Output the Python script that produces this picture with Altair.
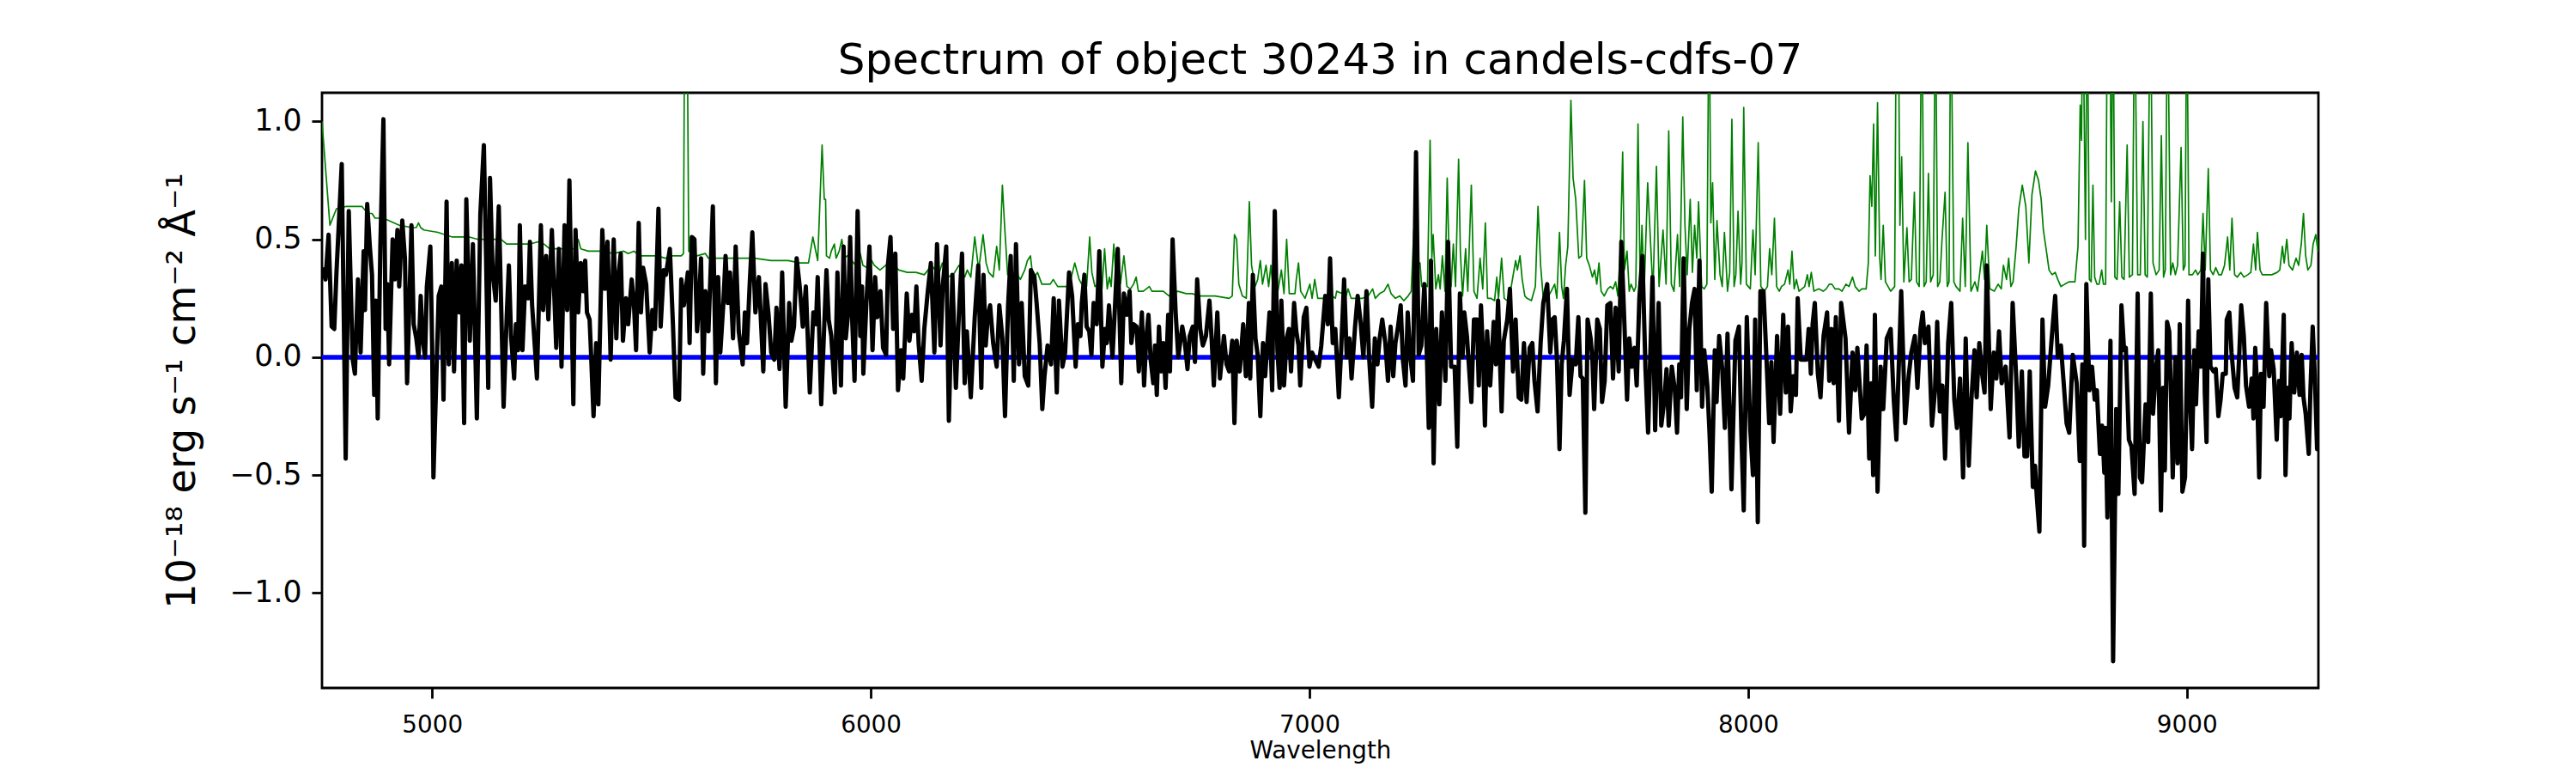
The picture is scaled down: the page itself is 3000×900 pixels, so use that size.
import altair as alt
import pandas as pd

# ---------------- data ----------------
title_text = "Spectrum of object 30243 in candels-cdfs-07"
x_title = "Wavelength"
y_title = "10⁻¹⁸ erg s⁻¹ cm⁻² Å⁻¹"
x_ticks = [5000, 6000, 7000, 8000, 9000]
y_ticks = [-1.0, -0.5, 0.0, 0.5, 1.0]
x_range = [4749, 9300]
y_range = [-1.403, 1.122]

black_wave = [
    4749, 4757, 4764, 4771, 4777, 4782, 4794, 4803, 4810, 4819, 4824, 4831, 4837, 4844, 4847, 4852,
    4858, 4863, 4868, 4872, 4876, 4882, 4889, 4894, 4898, 4902, 4910, 4915, 4921, 4925, 4932, 4938,
    4943, 4948, 4953, 4958, 4964, 4969, 4974, 4979, 4984, 4988, 4996, 5000, 5003, 5015, 5021, 5026,
    5033, 5038, 5045, 5050, 5056, 5062, 5067, 5073, 5078, 5086, 5093, 5102, 5110, 5118, 5123, 5128,
    5132, 5138, 5145, 5152, 5163, 5170, 5175, 5180, 5187, 5191, 5196, 5200, 5206, 5212, 5219, 5223,
    5228, 5239, 5248, 5253, 5260, 5265, 5273, 5283, 5289, 5295, 5302, 5308, 5313, 5322, 5327,
    5333, 5339, 5344, 5349, 5353, 5359, 5362, 5368, 5374, 5379, 5388, 5394, 5400, 5407, 5414, 5420,
    5425, 5430, 5435, 5442, 5447, 5455, 5460, 5465, 5471, 5476, 5481, 5488, 5496, 5502, 5508, 5516,
    5521, 5528, 5533, 5542, 5549, 5555, 5563, 5568, 5574, 5583, 5587, 5592, 5598, 5604, 5609, 5613,
    5618, 5623, 5630, 5640, 5647, 5652, 5657, 5664, 5669, 5674, 5679, 5686, 5692, 5699, 5708, 5713,
    5718, 5724, 5730, 5737, 5745, 5750, 5755, 5760, 5767, 5773, 5780, 5785, 5792, 5798, 5806, 5814,
    5819, 5825, 5831, 5838, 5845, 5852, 5861, 5869, 5875, 5879, 5887, 5893, 5899, 5904,
    5910, 5918, 5924, 5932, 5938, 5943, 5948, 5953, 5958, 5963, 5970, 5976, 5980, 5983, 5990, 5997,
    6004, 6010, 6015, 6022, 6028, 6035, 6039, 6045, 6051, 6056, 6062, 6069, 6074, 6082, 6088, 6094,
    6099, 6104, 6109, 6116, 6122, 6130, 6137, 6145, 6151, 6159, 6164, 6172, 6178, 6186, 6194, 6201,
    6208, 6214, 6219, 6228, 6237, 6245, 6252, 6257, 6262, 6267, 6272, 6279, 6287, 6293, 6300, 6306,
    6313, 6319, 6326, 6331, 6338, 6344, 6351, 6359, 6365, 6373, 6378, 6385, 6391, 6396, 6403, 6411,
    6417, 6424, 6429, 6437, 6443, 6452, 6459, 6467, 6472, 6478, 6481,
    6487, 6492, 6498, 6503, 6508, 6515, 6521, 6528, 6534, 6538, 6543, 6551, 6556, 6563, 6571, 6577,
    6584, 6590, 6594, 6599, 6606, 6611, 6618, 6623, 6628, 6633, 6638, 6644, 6648, 6652, 6657, 6662,
    6667, 6672, 6678, 6682, 6688, 6695, 6701, 6710, 6715, 6722, 6727, 6734, 6739, 6744, 6751, 6757,
    6764, 6772, 6777, 6782, 6790, 6796, 6805, 6811, 6817, 6824, 6829, 6834, 6841, 6849, 6855, 6862,
    6865, 6871, 6877, 6882, 6888, 6894, 6899, 6909, 6915, 6921, 6927, 6932, 6936, 6942, 6948, 6953,
    6958, 6965, 6970, 6975, 6979, 6987, 6993, 7000, 7006, 7013, 7021, 7027, 7036, 7042, 7047, 7053, 7059,
    7067, 7072, 7079, 7085, 7091, 7096, 7104, 7110, 7117, 7123, 7130, 7136, 7143, 7149, 7155, 7160,
    7166, 7173, 7179, 7185, 7191, 7196, 7202, 7208, 7213, 7219, 7224, 7230, 7236, 7243, 7249, 7255,
    7262, 7268, 7272, 7277, 7283, 7289, 7296, 7302, 7310, 7316, 7323, 7331, 7337, 7343, 7349, 7353,
    7359, 7369, 7375, 7382, 7386, 7391, 7396, 7400, 7405, 7412, 7420, 7425, 7430, 7438, 7443, 7451,
    7457, 7464, 7470, 7477, 7483, 7489, 7495, 7502, 7508, 7513, 7520, 7527, 7533, 7542, 7549, 7554,
    7559, 7564, 7570, 7575, 7580, 7587, 7593, 7600, 7607, 7613, 7618, 7623, 7629, 7634,
    7641, 7645, 7649, 7656, 7662, 7667, 7673, 7679, 7686, 7692, 7698, 7705, 7711, 7718, 7724, 7729,
    7735, 7741, 7746, 7752, 7759, 7766, 7772, 7782, 7788, 7796, 7802, 7809, 7814, 7819, 7826, 7833,
    7838, 7843, 7847, 7853, 7860, 7866, 7872, 7878, 7883, 7889, 7895, 7900, 7907, 7912, 7917, 7924,
    7928, 7934, 7941, 7947, 7953, 7962, 7971, 7979, 7985, 7990, 7997, 8005, 8011, 8016, 8022, 8028,
    8035, 8041, 8048, 8053, 8058, 8066, 8073, 8080, 8086, 8091, 8097, 8103, 8109, 8113, 8120, 8126,
    8133, 8138, 8143, 8147, 8152, 8159, 8165, 8172, 8180, 8185, 8190, 8195, 8200, 8207, 8212,
    8222, 8230, 8238, 8244, 8249, 8259, 8265, 8270, 8276, 8281, 8285, 8289, 8295, 8302, 8308, 8316,
    8325, 8332, 8338, 8349, 8358, 8366, 8372, 8380, 8386, 8393, 8398, 8403, 8411, 8419, 8426, 8431,
    8437, 8443, 8449, 8456, 8463, 8470, 8476, 8483, 8490, 8496, 8503, 8509, 8516, 8521, 8527, 8534,
    8539, 8544, 8553, 8560, 8566, 8572, 8578, 8587, 8596, 8603, 8611, 8617, 8624, 8630, 8636, 8642,
    8649, 8654, 8658, 8664, 8671, 8677, 8684, 8692, 8700, 8706, 8713, 8719, 8726, 8732, 8740, 8749,
    8756, 8762, 8766, 8771, 8778, 8784, 8790,
    8795, 8802, 8807, 8812, 8815, 8819, 8826, 8832, 8839, 8844, 8851, 8857, 8861, 8868, 8874, 8881,
    8888, 8893, 8898, 8906, 8912, 8918, 8923, 8930, 8935, 8941, 8946, 8950, 8955, 8960, 8964, 8968,
    8974, 8979, 8984, 8990, 8996, 9003, 9007, 9012, 9017, 9021, 9027, 9032, 9037, 9041, 9045, 9049,
    9054, 9061, 9066, 9072, 9077, 9082, 9089, 9091, 9097, 9102, 9109, 9115, 9120, 9124, 9130, 9135,
    9142, 9148, 9152, 9156, 9160, 9165, 9169, 9175, 9181, 9188, 9192, 9198, 9205, 9210, 9214, 9221,
    9225, 9230, 9234, 9239, 9245, 9251, 9257, 9262, 9266, 9271, 9278, 9282, 9287, 9292, 9297, 9300,
]
black_flux = [
    0.38, 0.33, 0.52, 0.13, 0.12, 0.36, 0.82, -0.43, 0.62, -0.01, -0.07, 0.33, 0.02, 0.45, 0.20, 0.65,
    0.47, 0.35, -0.16, 0.24, -0.26, 0.47, 1.01, 0.12, 0.31, -0.03, 0.50, 0.33, 0.54, 0.30, 0.58, 0.42,
    -0.11, 0.22, 0.56, 0.14, 0.08, 0.00, 0.26, 0.07, 0.00, 0.30, 0.47, 0.06, -0.51, 0.26, 0.30, -0.18,
    0.66, -0.03, 0.40, -0.06, 0.41, 0.19, 0.39, -0.28, 0.67, 0.07, 0.48, -0.26, 0.61, 0.90, 0.43, -0.13,
    0.76, 0.36, 0.24, 0.64, -0.21, 0.17, 0.39, 0.09, -0.09, 0.14, 0.03, 0.56, 0.03, 0.30, 0.25, 0.49,
    0.22, -0.09, 0.56, 0.20, 0.43, 0.16, 0.54, 0.04, 0.46, -0.04, 0.56, 0.20, 0.75, -0.20, 0.54,
    0.19, 0.40, 0.28, 0.41, 0.19, 0.16, 0.03, -0.25, 0.06, -0.20, 0.54, 0.29, 0.49, -0.01, 0.50, 0.08,
    0.35, 0.44, 0.07, 0.25, 0.14, 0.33, 0.23, 0.03, 0.57, 0.19, 0.38, 0.31, 0.02, 0.20, 0.12, 0.63,
    0.13, 0.37, 0.35, 0.46, 0.14, -0.17, -0.18, 0.33, 0.22, 0.36, 0.06, 0.51, 0.50, 0.11, 0.25, 0.42,
    -0.07, 0.28, 0.11, 0.64, -0.11, 0.34, 0.02, 0.23, 0.43, 0.23, 0.36, 0.08, 0.47, 0.11, -0.03, 0.19,
    0.06, 0.31, 0.53, 0.19, 0.34, 0.14, -0.06, 0.31, 0.18, 0.02, -0.01, 0.21, -0.05, 0.36, -0.21, 0.23,
    0.07, 0.13, 0.42, 0.30, 0.13, 0.30, -0.15, 0.19, 0.14, 0.34, -0.20, 0.09, 0.37, 0.16,
    0.09, -0.15, 0.36, -0.12, 0.47, 0.08, 0.18, 0.51, 0.14, -0.10, 0.62, 0.09, 0.30, -0.07, 0.23, 0.47,
    0.03, 0.34, 0.17, 0.28, 0.04, 0.01, 0.39, 0.51, 0.12, 0.44, -0.14, 0.03, -0.09, 0.27, 0.07, 0.18,
    0.11, 0.30, 0.06, -0.10, 0.12, 0.28, 0.40, 0.02, 0.48, 0.05, 0.30, 0.47, -0.27, 0.35, -0.13, 0.19,
    0.44, -0.11, 0.11, -0.17, 0.17, 0.39, -0.13, 0.35, 0.05, 0.18, 0.22, 0.06, -0.04, 0.22, 0.08, -0.25,
    0.22, 0.43, -0.10, 0.48, -0.03, 0.23, -0.08, -0.12, 0.37, 0.34, 0.23, 0.06, -0.22, -0.08, 0.05, -0.03,
    0.25, -0.15, 0.24, -0.04, 0.02, 0.36, 0.26, -0.04, 0.14, 0.09, 0.23,
    0.35, 0.13, 0.11, 0.01, 0.23, 0.14, 0.45, -0.04, 0.12, 0.06, 0.22, 0.00, 0.19, 0.46, -0.11, 0.27,
    0.18, 0.28, 0.06, 0.14, 0.13, -0.06, 0.19, -0.12, 0.08, 0.18, -0.01, -0.11, 0.05, -0.16, 0.13, -0.06,
    0.06, -0.13, 0.18, -0.06, 0.50, 0.19, 0.00, 0.13, 0.08, -0.05, 0.09, 0.13, -0.02, 0.33, 0.12, 0.05,
    0.09, 0.24, 0.08, -0.12, 0.19, -0.09, 0.09, -0.03, -0.06, 0.07, -0.28, 0.07, -0.06, 0.14, -0.08, 0.23,
    -0.09, 0.35, 0.08, 0.01, -0.25, 0.06, -0.08, 0.19, -0.14, 0.62, 0.03, -0.13, 0.24, -0.12, 0.08, 0.12,
    -0.06, 0.23, 0.11, 0.05, -0.12, 0.17, 0.21, -0.04, 0.02, -0.01, -0.04, 0.05, 0.26, 0.14, 0.42, 0.06, 0.12,
    -0.17, 0.02, 0.33, 0.00, 0.08, -0.09, 0.13, 0.26, 0.14, 0.00, 0.28, 0.00, -0.21, 0.08, -0.03, 0.08,
    0.16, 0.06, -0.10, 0.13, -0.08, 0.06, 0.13, 0.22, -0.01, -0.12, 0.19, 0.00, -0.10, 0.87, 0.01, 0.05,
    0.31, -0.01, -0.30, 0.41, -0.45, 0.12, -0.20, 0.19, -0.10, 0.49, -0.04, -0.04, -0.38, 0.27, 0.00, 0.19,
    0.09, -0.19, 0.16, 0.16, -0.12, 0.22, 0.00, -0.29, 0.11, -0.12, 0.15, -0.03, 0.24, -0.23, 0.07, 0.16,
    0.29, -0.06, 0.16, -0.17, -0.18, 0.06, -0.19, 0.04, 0.06, -0.10, -0.23, 0.06, 0.23, 0.31, 0.02, 0.16,
    0.17, 0.00, -0.39, -0.03, 0.07, 0.29, -0.16, -0.01, -0.03, 0.17, -0.08, -0.09, -0.66, 0.16,
    0.08, -0.01, -0.22, 0.16, 0.12, -0.19, -0.10, 0.22, 0.23, -0.09, 0.21, -0.06, 0.49, 0.14, -0.18, 0.08,
    -0.04, 0.04, -0.12, 0.25, 0.43, -0.05, -0.32, 0.34, -0.31, 0.23, -0.29, -0.18, -0.05, -0.29, -0.04, -0.14,
    -0.32, -0.03, -0.17, 0.42, -0.22, 0.12, 0.23, 0.29, -0.14, 0.41, -0.21, 0.03, -0.12, -0.32, -0.57, 0.03,
    -0.19, 0.09, -0.05, -0.30, 0.10, -0.56, 0.07, 0.13, -0.35, -0.65, 0.17, -0.31, -0.50, 0.16, -0.70, 0.28,
    0.28, 0.03, -0.28, -0.02, -0.36, 0.09, -0.24, 0.18, -0.15, 0.13, -0.23, -0.08, -0.16, 0.25, -0.01, -0.01,
    -0.01, 0.12, -0.07, 0.14, 0.23, -0.07, -0.17, 0.09, 0.19, -0.10, 0.12, -0.11, 0.17, -0.27, 0.23,
    0.08, -0.32, 0.02, -0.14, 0.04, -0.26, -0.24, 0.05, -0.43, -0.11, -0.50, 0.18, -0.57, -0.04, -0.22, 0.08,
    0.12, -0.18, -0.35, 0.28, -0.28, -0.08, 0.02, 0.09, -0.13, 0.12, 0.19, 0.06, 0.13, -0.29, -0.14, 0.15,
    -0.23, -0.12, -0.43, 0.06, 0.23, -0.18, -0.30, -0.09, -0.51, 0.08, -0.46, -0.18, 0.03, -0.17, 0.06, -0.08,
    -0.15, 0.39, -0.22, 0.02, -0.09, 0.11, -0.11, -0.04, -0.34, 0.23, -0.08, -0.38, -0.06, -0.42, -0.42, -0.06,
    -0.55, -0.46, -0.59, -0.74, 0.16, -0.21, -0.12, 0.08, 0.26, 0.00, 0.05, -0.10, -0.28, -0.32, 0.01, -0.11,
    -0.44, -0.03, -0.80, 0.31, -0.14, -0.04, -0.18,
    -0.14, -0.41, -0.29, -0.49, -0.30, -0.68, 0.07, -1.29, -0.22, -0.58, 0.22, 0.03, 0.04, -0.35, -0.38, -0.58,
    0.27, -0.51, -0.53, -0.20, -0.36, 0.27, -0.24, -0.04, 0.03, -0.65, -0.13, -0.48, 0.15, 0.11, -0.17, -0.51,
    0.00, -0.45, 0.14, -0.57, -0.51, 0.24, -0.17, -0.39, 0.03, -0.20, 0.11, -0.04, 0.44, -0.15, -0.36, 0.33,
    -0.04, -0.06, -0.05, -0.25, -0.18, -0.07, -0.07, 0.16, 0.19, 0.02, -0.13, -0.17, 0.03, 0.22, 0.09, -0.12,
    -0.21, -0.09, -0.26, 0.04, -0.12, -0.51, -0.07, -0.21, 0.23, -0.08, 0.03, -0.05, -0.35, -0.10, -0.25, 0.18,
    -0.50, -0.13, -0.26, 0.06, -0.15, 0.02, -0.16, 0.01, -0.17, -0.24, -0.41, -0.13, 0.13, -0.09, -0.39, -0.39,
]

green_wave = [
    4749, 4767, 4782, 4805, 4840, 4853, 4863, 4870, 4889, 4925, 4955, 4964, 4969, 4974, 4981, 5013,
    5046, 5085, 5105, 5157, 5170, 5196, 5222, 5242, 5255, 5268, 5287, 5326,
    5333, 5339, 5356, 5382, 5414, 5437, 5447, 5460, 5473, 5512, 5532, 5542, 5551, 5568, 5573, 5576,
    5581, 5585, 5604, 5623, 5630, 5649, 5682, 5708, 5734, 5773, 5812, 5838, 5858, 5868, 5879, 5889,
    5894, 5897,
    5899, 5906, 5910, 5917, 5921, 5928, 5934, 5940, 5946, 5956, 5966, 5976, 5982, 5992, 6002, 6008,
    6021, 6034, 6047, 6064, 6083, 6103, 6122, 6139, 6155, 6163, 6175, 6188, 6201, 6214, 6220, 6228,
    6237, 6246, 6256, 6263, 6269, 6279, 6287, 6293, 6300, 6305, 6312, 6318, 6331, 6341, 6351, 6357,
    6364, 6370, 6380, 6390, 6409, 6416, 6426, 6442, 6452, 6465, 6475, 6481,
    6488, 6492, 6499, 6504, 6511, 6518, 6527, 6533, 6539, 6544, 6548, 6554, 6559, 6569, 6577, 6584,
    6592, 6599, 6605, 6610, 6621, 6628, 6635, 6641, 6654, 6667, 6680, 6700, 6719, 6732, 6752, 6785,
    6817, 6824, 6829, 6834, 6839, 6847, 6856, 6863, 6868, 6876, 6882, 6888, 6893, 6901, 6907, 6912,
    6918, 6928, 6936, 6942, 6948, 6954, 6967, 6970, 6975, 6980, 6990, 7001, 7006, 7012, 7019, 7039,
    7044, 7052, 7059,
    7062, 7075, 7082, 7088, 7095, 7108, 7121, 7134, 7144, 7150, 7160, 7170, 7179, 7186, 7196, 7206,
    7215, 7225, 7232, 7238, 7245, 7252, 7256, 7263, 7269, 7275, 7279, 7282, 7288, 7294, 7298, 7303,
    7309, 7314, 7319, 7323, 7328, 7333, 7340, 7344, 7349, 7356, 7361, 7369, 7375, 7382, 7389, 7395,
    7401, 7406, 7413, 7422, 7427, 7431, 7438, 7444, 7451, 7460, 7470, 7474, 7480, 7485, 7491, 7496,
    7506, 7515, 7521, 7527, 7533, 7542, 7551, 7559, 7564, 7570, 7575, 7579, 7584, 7589, 7596, 7601,
    7607, 7614, 7620, 7627,
    7632, 7638, 7645, 7650, 7655, 7660, 7665, 7672, 7680, 7686, 7692, 7698, 7703, 7709, 7714, 7718,
    7724, 7729, 7733, 7740, 7744, 7749, 7754, 7758, 7763, 7771, 7778, 7783, 7791, 7797, 7806, 7813,
    7819, 7825, 7831, 7839, 7844, 7851, 7856, 7861, 7868, 7873, 7878, 7883, 7887, 7894, 7900, 7906,
    7911, 7915, 7919, 7924, 7929, 7936, 7941, 7946, 7953, 7958, 7963, 7968, 7972, 7977, 7983, 7986,
    7990, 7996, 8005, 8011, 8016, 8023, 8029, 8037, 8044, 8049, 8054, 8060, 8065, 8071, 8076, 8083,
    8091, 8095, 8100, 8105, 8110, 8116, 8129, 8135, 8139, 8144, 8150, 8161, 8171, 8178, 8185, 8191,
    8198, 8207, 8214,
    8223, 8230, 8238, 8244, 8253, 8259, 8269, 8274, 8278, 8282, 8286, 8290, 8295, 8300, 8303, 8308,
    8313, 8319, 8325, 8334, 8338, 8342, 8346, 8350, 8355, 8362, 8367, 8372, 8379, 8384, 8390, 8396,
    8401, 8406, 8411, 8416, 8422, 8427, 8432, 8437, 8442, 8449, 8454, 8458, 8462, 8469, 8474, 8483,
    8489, 8495, 8501, 8508, 8517, 8523, 8534, 8539, 8544, 8551, 8561, 8570, 8577, 8582, 8589, 8594,
    8599, 8604, 8611, 8617, 8625, 8633, 8640, 8647, 8655, 8662, 8668, 8673, 8680, 8686, 8693, 8700,
    8706, 8713, 8722, 8732, 8739, 8745, 8752, 8757, 8760, 8763, 8769, 8773, 8778,
    8782, 8786, 8790, 8795, 8800, 8806, 8810, 8815, 8819, 8824, 8828, 8832, 8836, 8841, 8847, 8852,
    8857, 8864, 8869, 8876, 8881, 8888, 8894, 8900, 8905, 8910, 8917, 8923, 8930, 8937, 8942, 8947,
    8951, 8956, 8963, 8968, 8974, 8979, 8987, 8992, 8996, 9000, 9005, 9013, 9020, 9025, 9032, 9037,
    9042, 9049, 9054, 9060, 9066, 9073, 9079, 9086, 9093, 9098, 9103, 9109, 9115, 9123, 9130, 9139,
    9146, 9152, 9157, 9161, 9167, 9172, 9181, 9194, 9206, 9212, 9218, 9222, 9228, 9233, 9241, 9249,
    9255, 9261, 9266, 9271, 9276, 9283, 9288, 9294, 9299, 9300,
]
green_flux = [
    1.00, 0.56, 0.63, 0.64, 0.64, 0.61, 0.61, 0.59, 0.59, 0.56, 0.55, 0.55, 0.57, 0.55, 0.54, 0.53,
    0.51, 0.51, 0.50, 0.50, 0.48, 0.48, 0.48, 0.49, 0.48, 0.46, 0.46, 0.46,
    0.50, 0.46, 0.45, 0.45, 0.44, 0.45, 0.44, 0.45, 0.43, 0.43, 0.42, 0.43, 0.43, 0.43, 0.44, 1.60,
    1.60, 0.45, 0.43, 0.44, 0.42, 0.42, 0.42, 0.42, 0.42, 0.41, 0.41, 0.40, 0.40, 0.51, 0.41, 0.90,
    0.67, 0.67,
    0.43, 0.42, 0.45, 0.48, 0.42, 0.45, 0.50, 0.42, 0.43, 0.41, 0.39, 0.44, 0.39, 0.38, 0.41, 0.39,
    0.37, 0.39, 0.40, 0.37, 0.36, 0.36, 0.35, 0.39, 0.35, 0.40, 0.34, 0.35, 0.39, 0.34, 0.37, 0.34,
    0.51, 0.37, 0.52, 0.40, 0.36, 0.34, 0.47, 0.37, 0.73, 0.56, 0.35, 0.35, 0.36, 0.33, 0.37, 0.41,
    0.43, 0.33, 0.36, 0.31, 0.31, 0.33, 0.30, 0.30, 0.30, 0.40, 0.33, 0.31,
    0.35, 0.30, 0.51, 0.36, 0.30, 0.31, 0.29, 0.46, 0.29, 0.34, 0.30, 0.48, 0.34, 0.31, 0.43, 0.30,
    0.29, 0.31, 0.34, 0.28, 0.28, 0.29, 0.30, 0.28, 0.28, 0.28, 0.26, 0.28, 0.27, 0.27, 0.26, 0.26,
    0.25, 0.26, 0.52, 0.50, 0.31, 0.26, 0.25, 0.66, 0.39, 0.30, 0.33, 0.41, 0.31, 0.39, 0.30, 0.39,
    0.27, 0.28, 0.37, 0.27, 0.50, 0.27, 0.27, 0.33, 0.40, 0.28, 0.25, 0.31, 0.25, 0.33, 0.25, 0.25,
    0.28, 0.26, 0.25,
    0.28, 0.27, 0.25, 0.29, 0.25, 0.25, 0.25, 0.26, 0.29, 0.25, 0.27, 0.28, 0.31, 0.27, 0.25, 0.26,
    0.24, 0.26, 0.28, 0.54, 0.40, 0.40, 0.30, 0.31, 0.30, 0.92, 0.42, 0.52, 0.29, 0.35, 0.29, 0.43,
    0.28, 0.76, 0.37, 0.30, 0.48, 0.30, 0.84, 0.45, 0.26, 0.46, 0.28, 0.73, 0.28, 0.25, 0.42, 0.29,
    0.57, 0.25, 0.25, 0.24, 0.34, 0.25, 0.42, 0.25, 0.24, 0.30, 0.41, 0.37, 0.43, 0.33, 0.26, 0.25,
    0.24, 0.30, 0.64, 0.39, 0.25, 0.25, 0.28, 0.31, 0.25, 0.53, 0.30, 0.25, 0.39, 0.47, 1.09, 0.76,
    0.67, 0.42, 0.43, 0.75,
    0.42, 0.39, 0.34, 0.37, 0.31, 0.40, 0.28, 0.26, 0.29, 0.30, 0.29, 0.32, 0.26, 0.47, 0.87, 0.37,
    0.45, 0.28, 0.31, 0.28, 0.30, 0.99, 0.30, 0.56, 0.28, 0.74, 0.47, 0.28, 0.81, 0.30, 0.54, 0.31,
    0.96, 0.31, 0.28, 0.52, 0.30, 1.02, 0.56, 0.35, 0.67, 0.36, 0.56, 0.42, 0.66, 0.30, 0.29, 0.31,
    1.60, 0.57, 0.74, 0.33, 0.58, 0.35, 0.30, 0.53, 0.28, 0.36, 1.01, 0.30, 0.35, 0.62, 0.31, 0.40,
    1.06, 0.31, 0.29, 0.54, 0.35, 0.91, 0.30, 0.28, 0.30, 0.46, 0.35, 0.59, 0.30, 0.28, 0.30, 0.31,
    0.37, 0.31, 0.45, 0.29, 0.33, 0.28, 0.30, 0.35, 0.30, 0.36, 0.28, 0.29, 0.28, 0.29, 0.31, 0.31,
    0.29, 0.29, 0.28,
    0.31, 0.30, 0.34, 0.30, 0.28, 0.29, 0.29, 0.40, 0.77, 0.64, 0.99, 0.43, 1.08, 0.42, 0.33, 0.56,
    0.32, 0.30, 0.28, 0.30, 1.60, 1.60, 0.56, 0.85, 0.32, 0.55, 0.32, 0.33, 0.70, 0.32, 0.30, 1.60,
    0.30, 0.32, 0.78, 0.32, 0.35, 1.60, 0.30, 0.32, 0.50, 0.70, 0.30, 0.32, 1.60, 0.32, 0.30, 0.28,
    0.59, 0.30, 0.91, 0.28, 0.32, 0.28, 0.45, 0.33, 0.56, 0.29, 0.28, 0.31, 0.29, 0.39, 0.33, 0.42,
    0.30, 0.32, 0.47, 0.63, 0.73, 0.64, 0.40, 0.69, 0.79, 0.75, 0.67, 0.54, 0.45, 0.37, 0.35, 0.36,
    0.33, 0.30, 0.31, 0.32, 0.32, 0.32, 0.47, 1.07, 0.92, 1.60, 0.50, 1.60, 0.33,
    0.32, 0.73, 0.34, 0.31, 0.31, 0.37, 0.31, 0.31, 1.60, 1.60, 0.66, 1.60, 0.34, 0.33, 0.66, 0.34,
    0.33, 0.90, 0.34, 0.35, 1.60, 0.35, 0.35, 1.00, 0.35, 0.34, 1.60, 0.40, 0.35, 0.37, 0.94, 0.34,
    0.37, 1.60, 0.35, 0.40, 0.35, 0.39, 0.89, 0.37, 0.39, 1.60, 0.35, 0.35, 0.37, 0.35, 0.37, 0.61,
    0.37, 0.80, 0.37, 0.35, 0.38, 0.35, 0.35, 0.39, 0.51, 0.37, 0.59, 0.35, 0.34, 0.36, 0.34, 0.35,
    0.36, 0.48, 0.37, 0.53, 0.37, 0.35, 0.35, 0.35, 0.36, 0.37, 0.47, 0.40, 0.50, 0.39, 0.37, 0.42,
    0.39, 0.48, 0.61, 0.43, 0.37, 0.39, 0.48, 0.52, 0.45, 0.50,
]

zero_level = [0.0]

# ---------------- chart ----------------
df_black = pd.DataFrame({"wave": black_wave, "flux": black_flux})
df_green = pd.DataFrame({"wave": green_wave, "flux": green_flux})
df_zero = pd.DataFrame({"flux": zero_level})

FONT = "DejaVu Sans"
xscale = alt.Scale(domain=x_range, nice=False, zero=False)
yscale = alt.Scale(domain=y_range, nice=False, zero=False)

xaxis = alt.Axis(
    values=x_ticks, format="d", title=x_title, grid=False, domain=False,
    tickColor="black", tickWidth=2.8, tickSize=12,
    labelFont=FONT, labelFontSize=27.8, labelColor="black",
    labelBaseline="alphabetic", labelPadding=39, labelFlush=False, labelOverlap=False,
    titleFont=FONT, titleFontSize=27.8, titleFontWeight="normal", titleColor="black",
    titleBaseline="alphabetic", titleY=81, titleAlign="center",
)
yaxis = alt.Axis(
    values=y_ticks, title=y_title, grid=False, domain=False,
    labelExpr="replace(format(datum.value, '.1f'), '-', '\u2212')",
    tickColor="black", tickWidth=2.8, tickSize=12,
    labelFont=FONT, labelFontSize=34.7, labelColor="black",
    labelBaseline="middle", labelPadding=12, labelFlush=False, labelOverlap=False,
    titleFont=FONT, titleFontSize=46, titleFontWeight="normal", titleColor="black",
    titleAngle=270, titleBaseline="alphabetic", titleAlign="center",
    titleX=-149, titleY=346.5,
)

zero_rule = alt.Chart(df_zero).mark_rule(color="#0000ff", strokeWidth=5.5).encode(
    y=alt.Y("flux:Q", scale=yscale, axis=yaxis),
)
green_line = alt.Chart(df_green).mark_line(
    color="#008000", strokeWidth=1.7, clip=True, strokeJoin="round"
).encode(
    x=alt.X("wave:Q", scale=xscale, axis=xaxis),
    y=alt.Y("flux:Q", scale=yscale, axis=yaxis),
)
black_line = alt.Chart(df_black).mark_line(
    color="black", strokeWidth=5, clip=True, strokeJoin="round"
).encode(
    x=alt.X("wave:Q", scale=xscale, axis=xaxis),
    y=alt.Y("flux:Q", scale=yscale, axis=yaxis),
)

chart = alt.layer(zero_rule, green_line, black_line).properties(
    width=2325,
    height=693,
    autosize=alt.AutoSizeParams(type="none"),
    padding={"left": 367, "top": 100, "right": 290, "bottom": 90},
    title=alt.TitleParams(
        text=title_text, font=FONT, fontSize=50, fontWeight="normal", color="black",
        anchor="middle", baseline="alphabetic", offset=21, dy=49,
    ),
).configure(
    background="white", font=FONT
).configure_view(
    stroke="black", strokeWidth=2.8
)

chart.save("out.html", embed_options={"renderer": "svg", "actions": False})
